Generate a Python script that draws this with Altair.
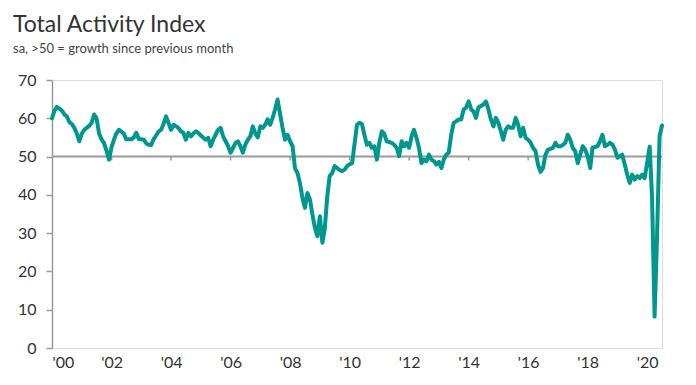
import altair as alt
import pandas as pd

# Monthly index values, Jan 2000 .. Jul 2020
v2000 = [60, 62, 63, 62.5, 62, 61, 60.5, 59, 58.5, 57.5, 56, 54]
v2001 = [56, 57, 57.5, 58, 58.8, 61, 60, 56, 54.5, 53.5, 51.5, 49.2]
v2002 = [52.5, 54.5, 56, 57, 56.5, 56, 54.5, 54.5, 54.5, 55, 56.2, 54.6]
v2003 = [54.5, 54.4, 53.5, 53.1, 53, 54.5, 55.5, 56.5, 57, 58.5, 60.5, 58.8]
v2004 = [57, 58.3, 57.9, 57.5, 56.6, 56.2, 54.4, 56.2, 55.3, 56, 56.6, 56.2]
v2005 = [55.5, 54.9, 54.4, 54.9, 52.7, 54.4, 55.7, 57, 57.5, 55.3, 54, 52.7]
v2006 = [51, 52.3, 53.5, 54, 52.7, 51, 53.1, 54.4, 55.3, 57.9, 56, 55]
v2007 = [57.9, 57.5, 58.3, 59.7, 58.3, 60.1, 62.3, 64.9, 61, 57.5, 54.4, 55.7]
v2008 = [54, 52.7, 47, 45.7, 43.1, 39.2, 36.6, 40.5, 38.8, 34.9, 31.4, 29.2]
v2009 = [34.4, 27.5, 31, 39.5, 44.9, 45.7, 47.5, 47, 46.5, 46.2, 46.6, 47.5]
v2010 = [48, 48.3, 53.1, 58.3, 58.8, 58.5, 55.7, 53.1, 53.6, 52.3, 52.7, 49.2]
v2011 = [53.6, 56.6, 56, 54, 53.8, 53.6, 53.1, 52.3, 50.1, 54, 52.7, 53.6]
v2012 = [52.3, 55.3, 57, 54.9, 52.3, 48.3, 49.2, 48.8, 50.5, 49.2, 48.8, 47.9]
v2013 = [48.6, 47, 49.2, 50.5, 51, 55.7, 58.8, 59.2, 59.7, 59.7, 62.3, 62.8]
v2014 = [64.4, 62.3, 61.8, 60.1, 62.8, 63.2, 63.6, 64.4, 62.3, 59.7, 57.9, 60.1]
v2015 = [58.8, 56.6, 54.4, 57, 57.9, 57.5, 57.5, 60.1, 58.3, 55.3, 57.5, 54.9]
v2016 = [54.4, 53.6, 52.3, 51.4, 47.9, 46, 47, 50.5, 51.8, 52, 52.3, 53.6]
v2017 = [52.7, 52.7, 53, 53.6, 55.7, 54.4, 52.3, 51.4, 48.3, 50.5, 52.7, 51.8]
v2018 = [50.1, 47, 52.3, 52.5, 52.7, 54, 55.7, 52.7, 53.1, 53.6, 53.1, 51.8]
v2019 = [49.7, 50.1, 50.5, 47.9, 45.3, 43.1, 45.3, 44, 44.9, 44.4, 45.3, 44.4]
v2020 = [48.4, 52.6, 39.3, 8.2, 28.9, 55.3, 58.1]

values = (v2000 + v2001 + v2002 + v2003 + v2004 + v2005 + v2006 + v2007 +
          v2008 + v2009 + v2010 + v2011 + v2012 + v2013 + v2014 + v2015 +
          v2016 + v2017 + v2018 + v2019 + v2020)

dates = pd.date_range("2000-01-01", periods=len(values), freq="MS")
df = pd.DataFrame({"date": dates, "value": values})

tick_years = [2000, 2002, 2004, 2006, 2008, 2010, 2012, 2014, 2016, 2018, 2020]
y_ticks = [0, 10, 20, 30, 40, 50, 60, 70]
tick_df = pd.DataFrame({"date": pd.to_datetime([f"{y}-01-01" for y in tick_years[1:]])})
ref_df = pd.DataFrame({"start": [dates[0]], "end": [dates[-1]], "level": [50]})

x_scale = alt.Scale(domain=[alt.DateTime(year=2000, month=1, date=1),
                            alt.DateTime(year=2020, month=7, date=1)])
y_scale = alt.Scale(domain=[0, 70])

axis_color = "#9a9a9a"
text_color = "#333333"
font = "Lato"

x_axis = alt.Axis(values=[alt.DateTime(year=y, month=1, date=1) for y in tick_years],
                  format="'%y", formatType="time", ticks=False, domain=False,
                  grid=False, labelPadding=6, labelFontSize=16, labelColor=text_color,
                  labelFont=font, labelOverlap=False, title=None)
y_axis = alt.Axis(values=y_ticks, tickCount=8, grid=False, labelOverlap=False,
                  domainColor=axis_color, domainWidth=1.5, tickColor=axis_color,
                  tickWidth=1.5, tickSize=6, labelPadding=10, labelFontSize=16,
                  labelColor=text_color, labelFont=font, title=None)

ref = alt.Chart(ref_df).mark_rule(color=axis_color, strokeWidth=2).encode(
    x=alt.X("start:T", scale=x_scale, axis=x_axis),
    x2="end:T",
    y=alt.Y("level:Q", scale=y_scale, axis=y_axis),
)

ticks = alt.Chart(tick_df).mark_rule(color=axis_color, strokeWidth=1.5).encode(
    x=alt.X("date:T", scale=x_scale, axis=x_axis),
    y=alt.Y(datum=50, type="quantitative", scale=y_scale, axis=y_axis),
    y2=alt.Y2(datum=49),
)

line = alt.Chart(df).mark_line(color="#00978f", strokeWidth=4, strokeJoin="round",
                               strokeCap="round").encode(
    x=alt.X("date:T", scale=x_scale, axis=x_axis),
    y=alt.Y("value:Q", scale=y_scale, axis=y_axis),
)

chart = alt.layer(ref, ticks, line).properties(
    width=610,
    height=268,
    autosize=alt.AutoSizeParams(type="none"),
    padding={"left": 44, "top": 72, "right": 20, "bottom": 30},
    title=alt.TitleParams(
        text="Total Activity Index",
        subtitle="sa, >50 = growth since previous month",
        anchor="start", frame="group", dx=-39, offset=16,
        font=font, fontSize=23, fontWeight="normal", color=text_color,
        subtitleFont=font, subtitleFontSize=13, subtitleColor="#444444",
        subtitlePadding=6,
    ),
).configure_view(stroke=None).configure(background="white")

chart.save("out.html", embed_options={"renderer": "svg", "actions": False})
